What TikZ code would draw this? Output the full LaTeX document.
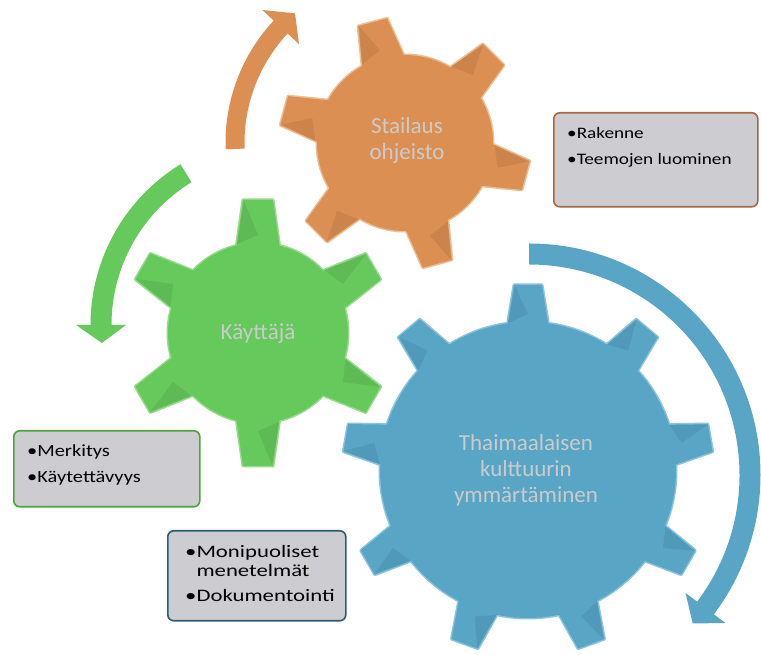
\documentclass[tikz,border=0pt]{standalone}
\usepackage{fontspec}
\setmainfont{Carlito}
\newfontfamily\bxfont[FakeStretch=1.2]{Carlito}
\newfontfamily\bxfontw[FakeStretch=1.3]{Carlito}
\definecolor{orA}{HTML}{DB8F52}
\definecolor{orL}{HTML}{EBC096}
\definecolor{grA}{HTML}{66C95C}
\definecolor{grL}{HTML}{9ADB90}
\definecolor{blA}{HTML}{58A5C6}
\definecolor{blL}{HTML}{8CC4DA}
\definecolor{boxF}{HTML}{CDCDD1}
\definecolor{orB}{HTML}{A8683C}
\definecolor{grB}{HTML}{4AA53C}
\definecolor{blB}{HTML}{2D5B72}
\definecolor{gtxt}{HTML}{CBCBCB}
\tikzset{
  geartxt/.style={text=gtxt, font=\fontsize{23}{26}\selectfont, align=center, inner sep=0},
  infobox/.style={draw=#1, line width=1.6, fill=boxF, rounded corners=6, inner sep=0, anchor=north west},
  itemtxt/.style={inner sep=0, anchor=base west, text=black},
}
\newcommand\drawgear[9]{%
  \pgfmathsetmacro\gstep{360/#4}
  \foreach \k in {1,...,#4}{%
    \pgfmathsetmacro\ga{#5+(\k-1)*\gstep}
    \draw[#9, line width=3, line join=round, shift={(#1)}, rotate=\ga] (#2-6,-#6) -- (#3,-#7) -- (#3,#7) -- (#2-6,#6) -- cycle;
  }
  \draw[#9, line width=3] (#1) circle[radius=#2];
  \foreach \k in {1,...,#4}{%
    \pgfmathsetmacro\ga{#5+(\k-1)*\gstep}
    \fill[#8, shift={(#1)}, rotate=\ga] (#2-6,-#6) -- (#3,-#7) -- (#3,#7) -- (#2-6,#6) -- cycle;
  }
  \fill[#8] (#1) circle[radius=#2];
  \foreach \k in {1,...,#4}{%
    \pgfmathsetmacro\ga{#5+(\k-1)*\gstep}
    \fill[black, opacity=0.07, shift={(#1)}, rotate=\ga] (#3-1,#7-1) -- (#2-1,#6-1) -- (#2+8,0) -- cycle;
  }
}
\newcommand\cararrow[8]{%
  \pgfmathsetmacro\ro{#2+#3/2}
  \pgfmathsetmacro\ri{#2-#3/2}
  \pgfmathsetmacro\ho{#2+#6}
  \pgfmathsetmacro\hi{#2-#6}
  \fill[#8] ([shift={(#4:\ro)}]#1) arc[start angle=#4, end angle=#5, radius=\ro]
    -- ([shift={(#5:\ho)}]#1) -- ([shift={(#7:#2)}]#1) -- ([shift={(#5:\hi)}]#1)
    -- ([shift={(#5:\ri)}]#1) arc[start angle=#5, end angle=#4, radius=\ri] -- cycle;
}
\begin{document}
\begin{tikzpicture}[x=1pt,y=1pt]
\useasboundingbox (0,0) rectangle (761,655);
\fill[white] (0,0) rectangle (761,655);
% centres
\coordinate (oc) at (405,512);
\coordinate (gc) at (258,322);
\coordinate (bc) at (528,185);
\coordinate (oac) at (405,512);
\coordinate (gac) at (279,330);
\coordinate (bac) at (529,180);
% arrows
\cararrow{oac}{170}{19}{182}{137}{25}{130.3}{orA}
\cararrow{gac}{178}{21}{121.5}{180}{25}{185.8}{grA}
\cararrow{bac}{221}{21}{90}{-37}{25}{-42.2}{blA}
% gears
\drawgear{oc}{88}{125}{6}{45}{22}{15}{orA}{orL}
\drawgear{gc}{90}{133}{6}{30}{22}{15}{grA}{grL}
\drawgear{bc}{148}{185}{9}{90}{21}{14}{blA}{blL}
% gear texts (base anchor = baseline of last line)
\node[geartxt, anchor=base] (ot) at (407,495) {Stailaus\\ohjeisto};
\node[geartxt, anchor=base] (gt) at (258,315) {Käyttäjä};
\node[geartxt, anchor=base] (bt) at (526,152) {Thaimaalaisen\\kulttuurin\\ymmärtäminen};
% boxes
\node[infobox=orB, minimum width=204, minimum height=94] (b1) at (553,543) {};
\node[itemtxt, font=\bxfont\fontsize{16}{19}\selectfont] (b1a) at (567,516) {•Rakenne};
\node[itemtxt, font=\bxfont\fontsize{16}{19}\selectfont] (b1b) at (567,490) {•Teemojen luominen};
\node[infobox=grB, minimum width=186, minimum height=76] (b2) at (13,225) {};
\node[itemtxt, font=\bxfont\fontsize{17}{19}\selectfont] (b2a) at (27,198) {•Merkitys};
\node[itemtxt, font=\bxfont\fontsize{17}{19}\selectfont] (b2b) at (27,172) {•Käytettävyys};
\node[infobox=blB, minimum width=178, minimum height=90] (b3) at (167,125) {};
\node[itemtxt, font=\bxfontw\fontsize{17.5}{19}\selectfont] (b3a) at (185,97) {•Monipuoliset};
\node[itemtxt, font=\bxfontw\fontsize{17.5}{19}\selectfont] (b3b) at (185,78) {\phantom{•}menetelmät};
\node[itemtxt, font=\bxfontw\fontsize{17.5}{19}\selectfont] (b3c) at (185,53) {•Dokumentointi};
\end{tikzpicture}
\end{document}
